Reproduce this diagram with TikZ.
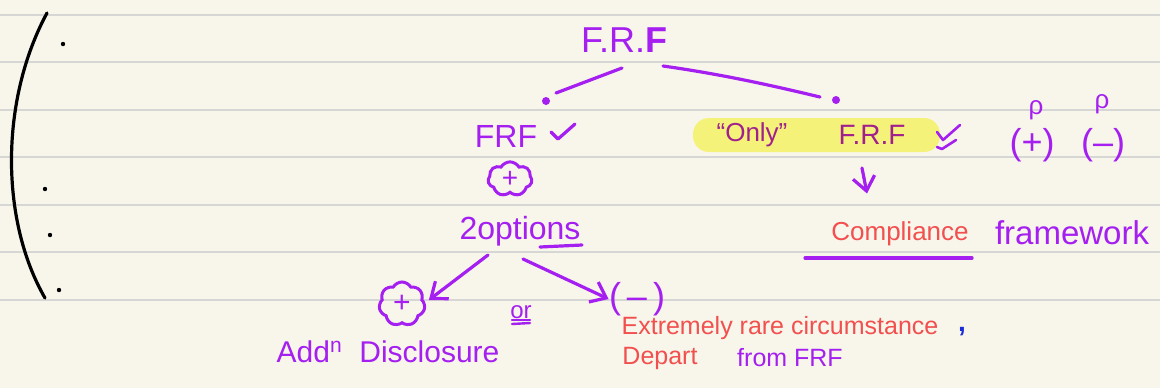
\documentclass[tikz,border=0pt]{standalone}
\usepackage{fontspec}
\setmainfont{Liberation Sans}
\usetikzlibrary{arrows.meta,shapes.symbols}
\definecolor{paper}{HTML}{F8F6EA}
\definecolor{rulec}{HTML}{D6D6D4}
\definecolor{pur}{HTML}{A41FF0}
\definecolor{redink}{HTML}{F24F4F}
\definecolor{hilite}{HTML}{F5F27A}
\definecolor{magink}{HTML}{A0208C}
\definecolor{blueink}{HTML}{1A2BD8}
\newcommand\hw[1]{\fontsize{#1}{#1}\selectfont}
\begin{document}
\begin{tikzpicture}[x=0.5pt,y=-0.5pt,
  rule/.style={draw=rulec, line width=1pt},
  ink/.style={draw=pur, line width=1.6pt, line cap=round, line join=round},
  txt/.style={inner sep=0pt, text=pur},
  rtxt/.style={inner sep=0pt, text=redink},
  arr/.style={ink, -{Straight Barb[length=7pt,width=11pt,line width=1.6pt]}},
  puff/.style={cloud, cloud puffs=7, cloud puff arc=120, aspect=1.2, draw=pur, line width=1.5pt, inner sep=1pt, text=pur},
  blk/.style={fill=black, circle, inner sep=0pt, minimum size=2.2pt},
  pdot/.style={fill=pur, circle, inner sep=0pt, minimum size=4pt}]
\useasboundingbox (0,0) rectangle (1160,388);
\fill[paper] (0,0) rectangle (1160,388);
\foreach \y in {15,62,110,157,205,252,300} \draw[rule] (0,\y) -- (1160,\y);

% left bracket and dots
\draw[line width=1.6pt, line cap=round] (47,13) .. controls (0,100) and (0,220) .. (45,298);
\node[blk] (d1) at (63,44) {};
\node[blk] (d2) at (45,189) {};
\node[blk] (d3) at (50,235) {};
\node[blk] (d4) at (59,290) {};

% title
\node[txt, font=\hw{18}] (top) at (624,40) {F.R.\textbf{F}};
\coordinate (tl) at (622,68);
\coordinate (tr) at (663,66);
\node[pdot] (dotL) at (546,101) {};
\node[pdot] (dotR) at (836,100) {};
\draw[ink] (tl) -- ([shift={(10,-8)}]dotL.center);
\draw[ink] (tr) .. controls (720,74) and (770,85) .. ([shift={(-16,-3)}]dotR.center);

% left branch
\node[txt, font=\hw{16}] (frf) at (506,136) {FRF};
\draw[ink] (551,132) -- (558,139) -- (575,124);
\node[puff, minimum width=22pt, minimum height=16pt, font=\hw{14}] (c1) at (510,179) {+};
\node[txt, font=\hw{16}] (opt) at (520,231) {2options};
\draw[ink] (540,247) -- (582,245);
\coordinate (oa) at (488,255);
\coordinate (ob) at (523,259);
\node[puff, minimum width=23pt, minimum height=22pt, font=\hw{15}] (c2) at (402,304) {+};
\node[txt, font=\hw{18}] (minus) at (637,299) {(\,–\,)};
\draw[arr] (oa) -- ([shift={(3,-4)}]c2.east);
\draw[arr] (ob) -- (minus.west);
\node[txt, font=\hw{12}] (or) at (521,312) {or};
\draw[ink, line width=1.2pt] (512,320) -- (530,320);
\draw[ink, line width=1.2pt] (512,324) -- (530,323);
\node[txt, font=\hw{15}] (add) at (388,352) {Add\textsuperscript{n}\ \ Disclosure};
\node[rtxt, font=\hw{12.5}] (ext) at (780,328) {Extremely rare circumstance};
\node[inner sep=0pt, text=blueink, font=\hw{14}\bfseries] (comma) at (962,332) {,};
\node[rtxt, font=\hw{12.5}] (dep) at (660,358) {Depart};
\node[txt, font=\hw{12.5}] (from) at (790,358) {from FRF};

% right branch
\fill[hilite, rounded corners=8pt] (693,118) rectangle (940,152);
\node[inner sep=0pt, text=magink, font=\hw{13}] (only) at (752,135) {“Only”};
\node[inner sep=0pt, text=magink, font=\hw{14}] (frf2) at (872,135) {F.R.F};
\draw[ink, line width=1.3pt] (937,132) -- (943,140) -- (960,125);
\draw[ink, line width=1.3pt] (937,147) -- (942,149) -- (956,140);
\node[txt, font=\hw{18}] (pp) at (1032,145) {(+)};
\node[txt, font=\hw{18}] (pm) at (1103,145) {(–)};
\node[txt, font=\hw{13}] (rho1) at (1036,110) {ρ};
\node[txt, font=\hw{13}] (rho2) at (1102,104) {ρ};
\coordinate (ar0) at (862,168);
\node[rtxt, font=\hw{13}] (comp) at (900,234) {Compliance};
\draw[arr] (ar0) -- ([shift={(-33,-28)}]comp.north);
\draw[ink] (805,258) -- (972,258);
\node[txt, font=\hw{16.5}] (fw) at (1072,233) {framework};
\end{tikzpicture}
\end{document}
